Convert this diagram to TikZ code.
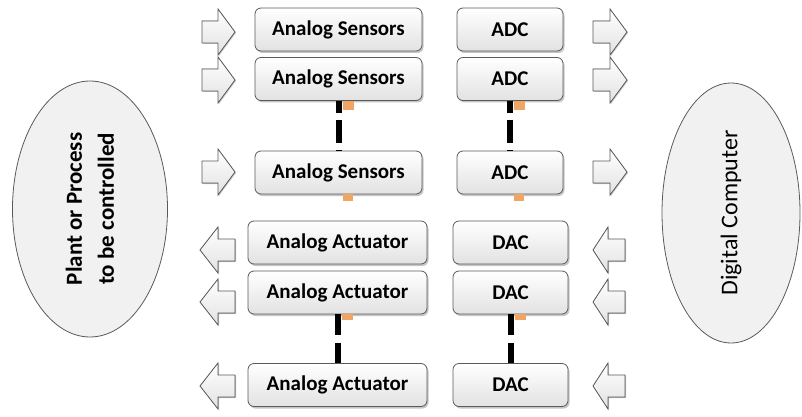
\documentclass[tikz,border=0pt]{standalone}
\usepackage{fontspec}
\setmainfont{Carlito}
\usetikzlibrary{shapes.geometric,shadows}
\definecolor{boxline}{RGB}{90, 90, 90}
\definecolor{boxshade}{RGB}{226, 226, 226}
\definecolor{ovalfill}{RGB}{241, 241, 241}
\definecolor{taborange}{RGB}{240, 165, 100}

\tikzset{
  unitbox/.style={draw=boxline, thick, rounded corners=6pt, top color=white, bottom color=boxshade,
                  drop shadow={shadow xshift=1.5pt, shadow yshift=-2pt, fill=black!45},
                  minimum height=43pt, inner sep=0pt, font=\fontsize{21}{24}\selectfont\bfseries},
  oval/.style={ellipse, draw=boxline, thick, fill=ovalfill, rotate=90, align=center, inner sep=0pt},
  blockarrow/.style={draw=boxline, thick, top color=white, bottom color=boxshade,
                  drop shadow={shadow xshift=1pt, shadow yshift=-1pt, fill=black!40}},
  busline/.style={line width=6pt}
}

\begin{document}
\begin{tikzpicture}[x=1pt, y=-1pt]
            \useasboundingbox (0,0) rectangle (802,417);
            % plant and computer
            \node[oval, minimum width=256pt, minimum height=155pt,
                  font=\fontsize{23}{32}\selectfont\bfseries]          (plant)    at ( 90.0,209.0) {Plant or Process\\to be controlled};
            \node[oval, minimum width=260pt, minimum height=138pt,
                  font=\fontsize{24}{28}\selectfont]                   (computer) at (731.0,213.0) {Digital Computer};
            % input channels
            \node[unitbox, minimum width=167pt] (sens1) at (338.5, 29.5) {Analog Sensors};
            \node[unitbox, minimum width=167pt] (sens2) at (338.5, 79.0) {Analog Sensors};
            \node[unitbox, minimum width=167pt] (sens3) at (338.5,172.5) {Analog Sensors};
            \node[unitbox, minimum width=106pt] (adc1)  at (510.0, 29.5) {ADC};
            \node[unitbox, minimum width=106pt] (adc2)  at (510.0, 79.0) {ADC};
            \node[unitbox, minimum width=106pt] (adc3)  at (510.0,172.5) {ADC};
            % output channels
            \node[unitbox, minimum width=179pt] (act1)  at (337.5,242.5) {Analog Actuator};
            \node[unitbox, minimum width=179pt] (act2)  at (337.5,292.5) {Analog Actuator};
            \node[unitbox, minimum width=179pt] (act3)  at (337.5,385.0) {Analog Actuator};
            \node[unitbox, minimum width=115pt] (dac1)  at (510.5,242.5) {DAC};
            \node[unitbox, minimum width=115pt] (dac2)  at (510.5,292.5) {DAC};
            \node[unitbox, minimum width=115pt] (dac3)  at (510.5,385.0) {DAC};
            % dashed buses
            \draw[busline, dash pattern=on 12pt off 7pt on 23pt off 7pt] (sens2.south) -- (sens3.north);
            \draw[busline, dash pattern=on 12pt off 7pt on 23pt off 7pt] (adc2.south)  -- (adc3.north);
            \draw[busline, dash pattern=on 21pt off 8pt]                 (act2.south)  -- (act3.north);
            \draw[busline, dash pattern=on 21pt off 8pt]                 (dac2.south)  -- (dac3.north);
            \fill[taborange] ([xshift=4pt]sens2.south) rectangle ++(11,9);
            \fill[taborange] ([xshift=4pt]adc2.south)  rectangle ++(11,9);
            \fill[taborange] ([xshift=4pt]sens3.south) rectangle ++(10,7);
            \fill[taborange] ([xshift=4pt]adc3.south)  rectangle ++(10,7);
            \fill[taborange] ([xshift=4pt]act2.south)  rectangle ++(11,6);
            \fill[taborange] ([xshift=4pt]dac2.south)  rectangle ++(11,6);
            % arrows into the sensors and out of the ADCs
            \filldraw[blockarrow] (202, 21) -- (218, 21) -- (218,  9) -- (235, 32) -- (218, 55) -- (218, 43) -- (202, 43) -- cycle;
            \filldraw[blockarrow] (202, 69) -- (218, 69) -- (218, 57) -- (235, 80) -- (218,103) -- (218, 91) -- (202, 91) -- cycle;
            \filldraw[blockarrow] (202,161) -- (218,161) -- (218,149) -- (235,172) -- (218,195) -- (218,183) -- (202,183) -- cycle;
            \filldraw[blockarrow] (593, 21) -- (610, 21) -- (610,  9) -- (627, 32) -- (610, 55) -- (610, 43) -- (593, 43) -- cycle;
            \filldraw[blockarrow] (593, 69) -- (610, 69) -- (610, 57) -- (627, 80) -- (610,103) -- (610, 91) -- (593, 91) -- cycle;
            \filldraw[blockarrow] (593,161) -- (610,161) -- (610,149) -- (627,172) -- (610,195) -- (610,183) -- (593,183) -- cycle;
            % arrows out of the actuators and into the DACs
            \filldraw[blockarrow] (235,239) -- (218,239) -- (218,227) -- (200,250) -- (218,273) -- (218,261) -- (235,261) -- cycle;
            \filldraw[blockarrow] (235,291) -- (218,291) -- (218,279) -- (200,302) -- (218,325) -- (218,313) -- (235,313) -- cycle;
            \filldraw[blockarrow] (235,375) -- (218,375) -- (218,363) -- (200,386) -- (218,409) -- (218,397) -- (235,397) -- cycle;
            \filldraw[blockarrow] (625,239) -- (608,239) -- (608,227) -- (593,250) -- (608,273) -- (608,261) -- (625,261) -- cycle;
            \filldraw[blockarrow] (625,291) -- (608,291) -- (608,279) -- (593,302) -- (608,325) -- (608,313) -- (625,313) -- cycle;
            \filldraw[blockarrow] (625,375) -- (608,375) -- (608,363) -- (593,386) -- (608,409) -- (608,397) -- (625,397) -- cycle;
            \end{tikzpicture}
\end{document}
